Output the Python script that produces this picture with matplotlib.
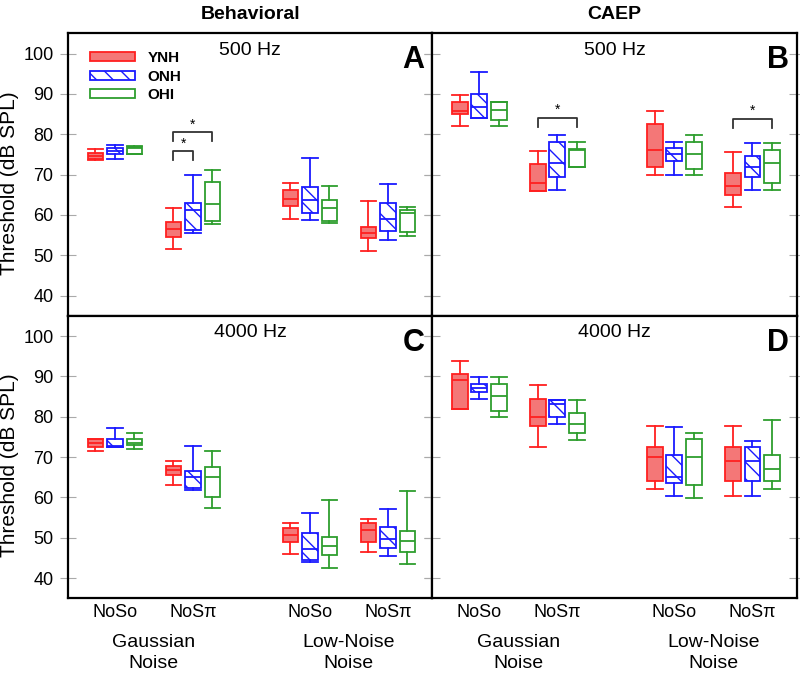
import matplotlib.pyplot as plt
from matplotlib.patches import Patch

plt.rcParams['font.family'] = ['Liberation Sans', 'DejaVu Sans']

conditions = ['NoSo', 'NoS\u03c0', 'NoSo', 'NoS\u03c0']
noise_types = ['Gaussian\nNoise', 'Low-Noise\nNoise']
groups = ['YNH', 'ONH', 'OHI']
columns = ['Behavioral', 'CAEP']
freqs = ['500 Hz', '500 Hz', '4000 Hz', '4000 Hz']
letters = ['A', 'B', 'C', 'D']

# (low whisker, q1, median, q3, high whisker) for each condition
a_ynh = [(73.5, 73.9, 74.6, 75.3, 76.4), (51.6, 54.6, 56.5, 58.2, 61.7),
         (59.0, 62.1, 64.0, 66.2, 67.9), (51.1, 54.4, 55.6, 57.0, 63.4)]
a_onh = [(73.8, 75.0, 75.8, 76.5, 77.4), (55.6, 56.2, 61.3, 62.9, 69.8),
         (58.8, 60.4, 63.6, 66.9, 74.2), (53.7, 56.0, 59.0, 62.9, 67.7)]
a_ohi = [(75.0, 75.1, 76.7, 76.9, 77.0), (57.7, 58.6, 62.6, 68.2, 71.1),
         (57.9, 58.6, 61.8, 63.7, 67.2), (54.8, 55.9, 60.6, 61.3, 62.0)]

b_ynh = [(82.0, 84.9, 85.8, 88.0, 89.8), (65.9, 65.9, 68.0, 72.5, 75.8),
         (70.0, 71.9, 76.1, 82.5, 85.8), (62.0, 64.9, 67.2, 70.4, 75.6)]
b_onh = [(83.9, 83.9, 86.8, 90.0, 95.3), (66.1, 69.5, 72.9, 78.0, 79.8),
         (70.0, 73.3, 75.0, 76.5, 78.0), (66.1, 69.5, 71.9, 74.5, 77.8)]
b_ohi = [(82.0, 83.5, 86.0, 88.0, 88.0), (71.9, 71.9, 76.0, 76.4, 78.0),
         (69.9, 71.4, 75.0, 78.0, 79.8), (66.1, 68.0, 72.9, 76.0, 77.8)]

c_ynh = [(71.4, 72.6, 73.5, 74.4, 74.6), (63.1, 65.5, 66.9, 67.9, 69.0),
         (46.0, 48.9, 50.6, 52.5, 53.6), (46.5, 49.0, 51.9, 53.8, 54.7)]
c_onh = [(72.4, 72.4, 72.7, 74.4, 77.1), (61.8, 62.3, 65.2, 66.5, 72.7),
         (43.9, 44.4, 47.2, 51.1, 56.1), (45.5, 47.5, 49.7, 52.8, 57.1)]
c_ohi = [(71.9, 72.9, 73.5, 74.6, 76.1), (57.5, 60.0, 65.1, 67.5, 71.6),
         (42.6, 45.8, 48.1, 50.2, 59.5), (43.5, 46.4, 49.1, 51.6, 61.7)]

d_ynh = [(82.0, 82.0, 89.1, 90.7, 93.8), (72.4, 77.6, 80.0, 84.5, 87.9),
         (62.2, 64.0, 70.1, 72.6, 77.7), (60.3, 64.0, 69.1, 72.6, 77.7)]
d_onh = [(84.3, 86.1, 87.1, 88.0, 89.9), (78.2, 80.0, 83.1, 84.1, 84.1),
         (60.3, 63.6, 65.0, 70.6, 77.5), (60.3, 64.0, 69.1, 72.6, 74.1)]
d_ohi = [(80.0, 81.5, 85.2, 88.0, 89.9), (74.3, 76.1, 78.2, 81.0, 84.1),
         (59.9, 63.0, 70.1, 74.6, 76.1), (62.2, 64.0, 67.0, 70.6, 79.3)]

# significance brackets: (condition index, group i, group j, bracket top)
a_sig = [(1, 0, 2, 80.5), (1, 0, 1, 75.8)]
b_sig = [(1, 0, 2, 84.0), (3, 0, 2, 83.8)]

panels = [[a_ynh, a_onh, a_ohi], [b_ynh, b_onh, b_ohi],
          [c_ynh, c_onh, c_ohi], [d_ynh, d_onh, d_ohi]]
sigs = [a_sig, b_sig, [], []]

xpos = [1, 2, 3.5, 4.5]
offsets = [-0.25, 0, 0.25]
edge = ['#ff2020', '#1a1aff', '#2e9e2e']
face = ['#f47777', 'none', 'none']
hatch = [None, '\\\\', None]

fig, axes = plt.subplots(2, 2, figsize=(8, 6.8), dpi=100, sharex=True, sharey=True)
fig.subplots_adjust(left=0.085, right=0.996, top=0.951, bottom=0.12, wspace=0, hspace=0)
axes = axes.ravel()

for k, ax in enumerate(axes):
    for g in range(3):
        stats = [dict(whislo=s[0], q1=s[1], med=s[2], q3=s[3], whishi=s[4])
                 for s in panels[k][g]]
        pos = [x + offsets[g] for x in xpos]
        ax.bxp(stats, positions=pos, widths=0.2, capwidths=0.2,
               patch_artist=True, showfliers=False,
               boxprops=dict(facecolor=face[g], edgecolor=edge[g], hatch=hatch[g], linewidth=1.3),
               whiskerprops=dict(color=edge[g], linewidth=1.3),
               capprops=dict(color=edge[g], linewidth=1.3),
               medianprops=dict(color=edge[g], linewidth=1.3))
    for c, i, j, y in sigs[k]:
        x1 = xpos[c] + offsets[i]
        x2 = xpos[c] + offsets[j]
        ax.plot([x1, x1, x2, x2], [y - 2.3, y, y, y - 2.3], color='#333333', lw=1.3)
        ax.text((x1 + x2) / 2, y + 0.2, '*', ha='center', va='bottom', fontsize=10)

    ax.set_xlim(0.4, 5.07)
    ax.set_ylim(35, 105)
    ax.set_yticks(range(40, 101, 10))
    ax.tick_params(axis='y', left=True, right=True, direction='inout', length=11,
                   color='#aaaaaa', labelsize=13, pad=5)
    ax.tick_params(axis='x', length=0, labelsize=13, pad=4)
    for sp in ax.spines.values():
        sp.set_linewidth(1.6)
    ax.text(0.5, 0.94, freqs[k], transform=ax.transAxes, ha='center', va='center', fontsize=14)
    ax.text(0.948, 0.905, letters[k], transform=ax.transAxes, ha='center', va='center',
            fontsize=22, fontweight='bold')
    if k % 2 == 0:
        ax.set_ylabel('Threshold (dB SPL)', fontsize=15)
        ax.yaxis.set_label_coords(-0.135, 0.47)

for ax in axes[2:]:
    ax.set_xticks(xpos)
    ax.set_xticklabels(conditions)
    ax.text(1.5, -0.125, noise_types[0], ha='center', va='top', fontsize=14,
            transform=ax.get_xaxis_transform(), linespacing=1.3)
    ax.text(4.0, -0.125, noise_types[1], ha='center', va='top', fontsize=14,
            transform=ax.get_xaxis_transform(), linespacing=1.3)

for ax, title in zip(axes[:2], columns):
    ax.set_title(title, fontsize=14, fontweight='bold', pad=10)

handles = [Patch(facecolor=face[g], edgecolor=edge[g], hatch=hatch[g], linewidth=1.3)
           for g in range(3)]
axes[0].legend(handles, groups, loc='upper left', frameon=False, handlelength=3.0,
               handleheight=0.55, labelspacing=0.3, borderaxespad=0.3,
               prop=dict(weight='bold', size=11), bbox_to_anchor=(0.03, 0.975))

fig.savefig('out.png')
